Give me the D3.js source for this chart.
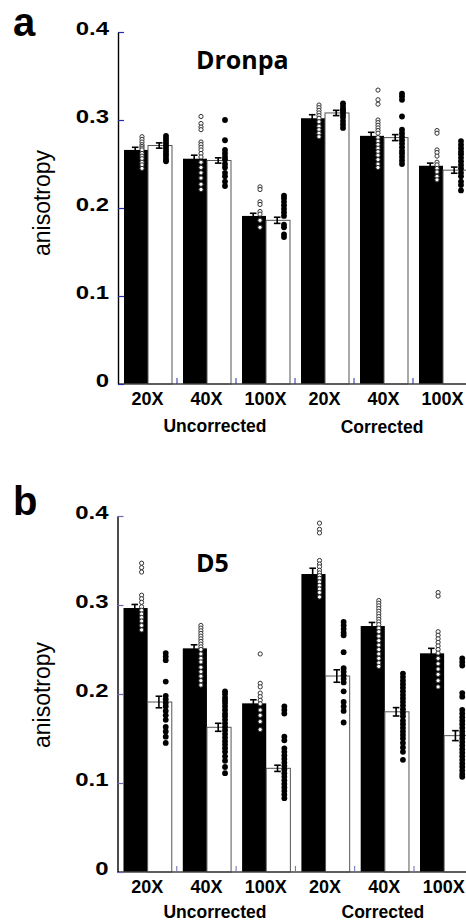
<!DOCTYPE html>
<html>
<head>
<meta charset="utf-8">
<script src="https://cdn.jsdelivr.net/npm/d3@7"></script>
<style>
  html, body { margin: 0; padding: 0; background: #fff; }
  svg { display: block; }
</style>
</head>
<body>
<script>
// ---------- DATA ----------
const groups = ["20X", "40X", "100X", "20X", "40X", "100X"];
const sections = ["Uncorrected", "Corrected"];
const yTicks = [0, 0.1, 0.2, 0.3, 0.4];

// Panel a: Dronpa
const dronpaBlack = [0.266, 0.256, 0.191, 0.302, 0.282, 0.248];
const dronpaWhite = [0.271, 0.254, 0.186, 0.308, 0.280, 0.243];
const dronpaBlackErr = [0.003, 0.004, 0.003, 0.004, 0.004, 0.003];
const dronpaWhiteErr = [0.003, 0.003, 0.0035, 0.003, 0.0034, 0.0035];
const dronpaBlackPts = [
  [0.281, 0.278, 0.275, 0.272, 0.270, 0.268, 0.266, 0.262, 0.259, 0.256, 0.252, 0.249, 0.245],
  [0.304, 0.296, 0.292, 0.289, 0.275, 0.272, 0.269, 0.266, 0.262, 0.258, 0.252, 0.246, 0.240, 0.234, 0.227, 0.221],
  [0.224, 0.221, 0.207, 0.204, 0.196, 0.193, 0.186, 0.178],
  [0.317, 0.314, 0.311, 0.308, 0.305, 0.302, 0.298, 0.293, 0.289, 0.285, 0.281],
  [0.334, 0.323, 0.318, 0.300, 0.297, 0.294, 0.291, 0.288, 0.285, 0.280, 0.276, 0.272, 0.268, 0.264, 0.260, 0.255, 0.250, 0.246],
  [0.288, 0.285, 0.266, 0.263, 0.259, 0.252, 0.249, 0.245, 0.241, 0.236, 0.232]
];
const dronpaWhitePts = [
  [0.282, 0.279, 0.276, 0.273, 0.270, 0.267, 0.264, 0.261, 0.258, 0.255, 0.253],
  [0.300, 0.277, 0.266, 0.262, 0.258, 0.255, 0.250, 0.246, 0.240, 0.236, 0.230, 0.225],
  [0.214, 0.211, 0.207, 0.203, 0.199, 0.195, 0.191, 0.181, 0.178, 0.170, 0.167],
  [0.319, 0.316, 0.313, 0.311, 0.309, 0.306, 0.303, 0.299, 0.295, 0.291],
  [0.330, 0.327, 0.323, 0.304, 0.289, 0.285, 0.281, 0.277, 0.273, 0.269, 0.265, 0.262, 0.258, 0.254, 0.250],
  [0.276, 0.272, 0.268, 0.264, 0.261, 0.257, 0.253, 0.249, 0.245, 0.240, 0.236, 0.230, 0.226, 0.220]
];

// Panel b: D5
const d5Black = [0.2966, 0.2513, 0.1895, 0.3348, 0.2764, 0.2457];
const d5White = [0.191, 0.1626, 0.1165, 0.2202, 0.180, 0.1532];
const d5BlackErr = [0.004, 0.004, 0.004, 0.0065, 0.004, 0.0056];
const d5WhiteErr = [0.0065, 0.0045, 0.0035, 0.007, 0.0047, 0.0056];
const d5BlackPts = [
  [0.347, 0.342, 0.337, 0.311, 0.307, 0.303, 0.298, 0.294, 0.290, 0.286, 0.282, 0.277, 0.272],
  [0.277, 0.274, 0.271, 0.268, 0.265, 0.262, 0.259, 0.256, 0.253, 0.250, 0.245, 0.240, 0.236, 0.230, 0.225, 0.220, 0.215, 0.210],
  [0.245, 0.212, 0.208, 0.201, 0.197, 0.193, 0.189, 0.182, 0.176, 0.169, 0.160],
  [0.392, 0.385, 0.381, 0.350, 0.346, 0.343, 0.339, 0.336, 0.333, 0.330, 0.326, 0.322, 0.318, 0.314, 0.309],
  [0.305, 0.302, 0.299, 0.296, 0.293, 0.290, 0.287, 0.284, 0.281, 0.278, 0.274, 0.270, 0.265, 0.260, 0.255, 0.250, 0.245, 0.240, 0.235, 0.231],
  [0.314, 0.310, 0.270, 0.266, 0.262, 0.258, 0.254, 0.250, 0.246, 0.240, 0.234, 0.228, 0.222, 0.215, 0.208]
];
const d5WhitePts = [
  [0.246, 0.242, 0.238, 0.214, 0.198, 0.194, 0.190, 0.186, 0.181, 0.176, 0.171, 0.163, 0.158, 0.152, 0.145],
  [0.203, 0.200, 0.196, 0.193, 0.190, 0.186, 0.182, 0.178, 0.175, 0.171, 0.167, 0.163, 0.159, 0.155, 0.151, 0.147, 0.143, 0.139, 0.135, 0.130, 0.125, 0.118, 0.111],
  [0.186, 0.182, 0.178, 0.152, 0.148, 0.139, 0.135, 0.131, 0.127, 0.123, 0.119, 0.115, 0.111, 0.107, 0.103, 0.099, 0.095, 0.091, 0.087, 0.083],
  [0.281, 0.277, 0.273, 0.269, 0.266, 0.247, 0.229, 0.225, 0.221, 0.217, 0.213, 0.203, 0.191, 0.186, 0.181, 0.168],
  [0.223, 0.219, 0.215, 0.211, 0.207, 0.203, 0.199, 0.195, 0.191, 0.187, 0.183, 0.179, 0.175, 0.170, 0.166, 0.162, 0.158, 0.154, 0.150, 0.145, 0.140, 0.135, 0.126],
  [0.240, 0.236, 0.232, 0.201, 0.197, 0.182, 0.178, 0.174, 0.170, 0.166, 0.162, 0.158, 0.154, 0.150, 0.146, 0.142, 0.138, 0.134, 0.130, 0.126, 0.122, 0.118, 0.114, 0.110, 0.107]
];

// ---------- DRAW ----------
const W = 466, H = 923;
const svg = d3.select("body").append("svg").attr("width", W).attr("height", H)
  .style("background", "#fff");

function drawPanel(opt) {
  const g = svg.append("g");
  const x = d3.scaleBand().domain(d3.range(groups.length))
    .range([opt.x0, opt.x0 + opt.groupW * groups.length]).padding(0);
  const inner = d3.scaleBand().domain(["black", "white"])
    .range([6, 54 * opt.groupW / 59]).padding(0);
  const y = d3.scaleLinear().domain([0, 0.4]).range([opt.yZero, opt.yTop]);

  const series = [
    { key: "black", vals: opt.black, err: opt.blackErr, pts: opt.blackPts },
    { key: "white", vals: opt.white, err: opt.whiteErr, pts: opt.whitePts }
  ];

  // bars
  series.forEach(s => {
    g.selectAll(null).data(s.vals).enter().append("rect")
      .attr("x", (d, i) => x(i) + inner(s.key))
      .attr("y", d => y(d))
      .attr("width", inner.bandwidth())
      .attr("height", d => y(0) - y(d))
      .attr("fill", s.key === "black" ? "#000" : "#fff")
      .attr("stroke", s.key === "black" ? "none" : "#555")
      .attr("stroke-width", 1);
  });

  // error bars
  const cap = 3.3;
  series.forEach(s => {
    const eg = g.append("g").attr("stroke", "#000").attr("stroke-width", 1.6);
    s.vals.forEach((v, i) => {
      const cx = x(i) + inner(s.key) + inner.bandwidth() / 2 - 0.8;
      const e = s.err[i];
      eg.append("line").attr("x1", cx).attr("x2", cx).attr("y1", y(v - e)).attr("y2", y(v + e));
      eg.append("line").attr("x1", cx - cap).attr("x2", cx + cap).attr("y1", y(v + e)).attr("y2", y(v + e));
      eg.append("line").attr("x1", cx - cap).attr("x2", cx + cap).attr("y1", y(v - e)).attr("y2", y(v - e));
    });
  });

  // points
  series.forEach(s => {
    s.pts.forEach((arr, i) => {
      const px = x(i) + inner(s.key) + inner.bandwidth() * 0.75;
      g.selectAll(null).data(arr).enter().append("circle")
        .attr("cx", px)
        .attr("cy", d => y(d))
        .attr("r", s.key === "black" ? 2.1 : 2.9)
        .attr("fill", s.key === "black" ? "#fff" : "#000")
        .attr("stroke", s.key === "black" ? "#333" : "none")
        .attr("stroke-width", 1);
    });
  });

  // x axis line
  g.append("line").attr("x1", opt.x0).attr("x2", W).attr("y1", y(0)).attr("y2", y(0))
    .attr("stroke", "#444").attr("stroke-width", 1.4);
  // bottom ticks at group boundaries
  g.selectAll(null).data(d3.range(1, groups.length)).enter().append("line")
    .attr("x1", i => x(i)).attr("x2", i => x(i))
    .attr("y1", y(0) - 6).attr("y2", y(0))
    .attr("stroke", opt.tickColor).attr("stroke-width", 1);

  // y axis
  const ax = g.append("g").attr("transform", `translate(${opt.x0},0)`)
    .call(d3.axisRight(y).tickValues(yTicks).tickSize(6).tickFormat("").tickSizeOuter(0));
  ax.select(".domain").attr("stroke", "#000").attr("stroke-width", 1.4);
  ax.selectAll(".tick line").attr("stroke", opt.tickColor).attr("stroke-width", 1.2);

  // y tick labels
  g.selectAll(null).data(yTicks).enter().append("text")
    .attr("transform", d => `translate(${opt.x0 - 9},${y(d) + 2.5}) scale(1.33,1)`)
    .attr("text-anchor", "end")
    .attr("font-family", "Liberation Sans, Arial, sans-serif")
    .attr("font-weight", "bold").attr("font-size", 18)
    .text(d => d === 0 ? "0" : d.toFixed(1));

  // x labels
  g.selectAll(null).data(groups).enter().append("text")
    .attr("x", (d, i) => x(i) + x.bandwidth() / 2)
    .attr("y", y(0) + opt.xLabDy)
    .attr("text-anchor", "middle")
    .attr("font-family", "Liberation Sans, Arial, sans-serif")
    .attr("font-weight", "bold").attr("font-size", 18)
    .text(d => d);

  // section labels
  const secX = [ (x(0) + x(2) + x.bandwidth()) / 2 + 8.5, (x(3) + x(5) + x.bandwidth()) / 2 - 1.5 ];
  g.selectAll(null).data(sections).enter().append("text")
    .attr("x", (d, i) => secX[i])
    .attr("y", (d, i) => y(0) + opt.secDy + (i === 1 ? opt.secDy2 : 0))
    .attr("text-anchor", "middle")
    .attr("font-family", "Liberation Sans, Arial, sans-serif")
    .attr("font-weight", "bold").attr("font-size", 17.5)
    .text(d => d);

  // y title
  g.append("text")
    .attr("transform", `translate(50,${opt.yTitleY}) rotate(-90)`)
    .attr("text-anchor", "middle")
    .attr("font-family", "Liberation Sans, Arial, sans-serif")
    .attr("font-size", 23)
    .text("anisotropy");

  // panel letter
  g.append("text").attr("x", 13).attr("y", opt.letterY)
    .attr("font-family", "Liberation Sans, Arial, sans-serif")
    .attr("font-weight", "bold").attr("font-size", 40)
    .text(opt.letter);

  // title
  g.append("text").attr("x", 196).attr("y", opt.titleY)
    .attr("font-family", "Open Sans, Noto Sans, sans-serif")
    .attr("font-weight", "bold").attr("font-size", 25)
    .text(opt.title);
}

drawPanel({
  x0: 118, groupW: 59, yZero: 384, yTop: 32,
  black: dronpaBlack, white: dronpaWhite,
  blackErr: dronpaBlackErr, whiteErr: dronpaWhiteErr,
  blackPts: dronpaBlackPts, whitePts: dronpaWhitePts,
  tickColor: "#2a2aa8", xLabDy: 21, secDy: 48, secDy2: 1,
  yTitleY: 203, letter: "a", letterY: 36, title: "Dronpa", titleY: 69
});

drawPanel({
  x0: 117.5, groupW: 59.3, yZero: 872, yTop: 516,
  black: d5Black, white: d5White,
  blackErr: d5BlackErr, whiteErr: d5WhiteErr,
  blackPts: d5BlackPts, whitePts: d5WhitePts,
  tickColor: "#6a6ab0", xLabDy: 21, secDy: 46, secDy2: 0,
  yTitleY: 695, letter: "b", letterY: 515, title: "D5", titleY: 572
});
</script>
</body>
</html>
